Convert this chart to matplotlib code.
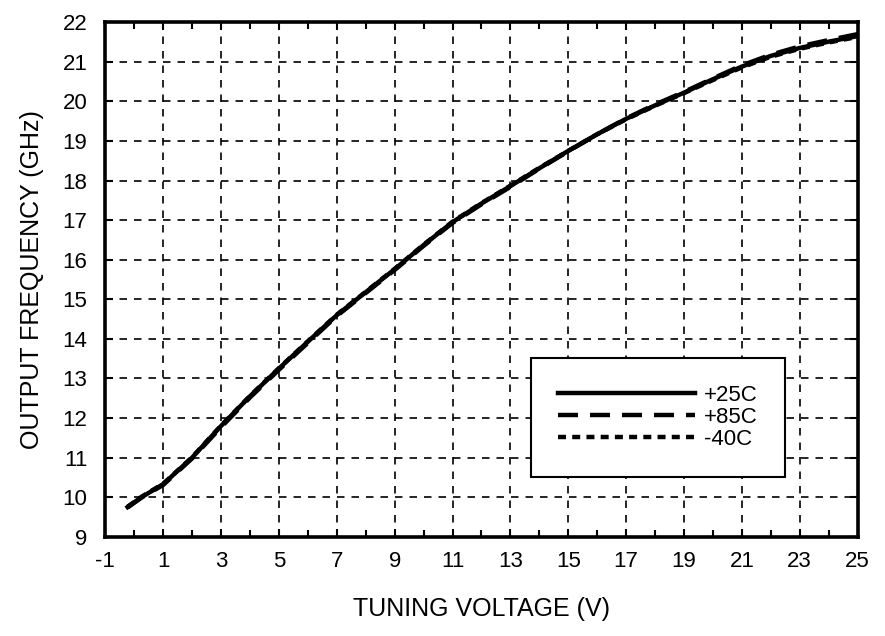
"""VCO tuning curve: output frequency vs tuning voltage at three temperatures."""

import matplotlib.pyplot as plt
import numpy as np
from matplotlib.ticker import MultipleLocator

plt.rcParams["font.family"] = ["Liberation Sans", "DejaVu Sans"]
plt.rcParams["axes.unicode_minus"] = False

# Tuning voltage (V) and output frequency (GHz)
VOLTAGE = [-0.23, 0.25, 1, 2, 3, 4, 5, 6, 7, 8, 9, 10, 11, 12, 13, 14, 15,
           16, 17, 18, 19, 20, 21, 22, 23, 24, 25]
FREQ_25C = [9.75, 10.0, 10.33, 11.0, 11.8, 12.55, 13.25, 13.93, 14.6, 15.18,
            15.76, 16.37, 16.95, 17.42, 17.86, 18.31, 18.75, 19.17, 19.56,
            19.9, 20.22, 20.56, 20.88, 21.15, 21.35, 21.51, 21.65]
FREQ_85C = [9.74, 9.99, 10.31, 10.98, 11.77, 12.52, 13.22, 13.9, 14.58, 15.16,
            15.74, 16.35, 16.93, 17.4, 17.84, 18.3, 18.74, 19.17, 19.57,
            19.92, 20.24, 20.58, 20.91, 21.18, 21.39, 21.55, 21.7]
FREQ_M40C = [9.76, 10.01, 10.34, 11.01, 11.81, 12.56, 13.26, 13.94, 14.61,
             15.19, 15.77, 16.38, 16.96, 17.43, 17.87, 18.32, 18.75, 19.17,
             19.55, 19.89, 20.21, 20.54, 20.86, 21.13, 21.33, 21.49, 21.63]

LABELS = ["+25C", "+85C", "-40C"]


def main() -> None:
    fig = plt.figure(figsize=(8.85, 6.36), dpi=100)
    ax = fig.add_axes([0.119, 0.156, 0.850, 0.809])

    ax.plot(VOLTAGE, FREQ_25C, color="black", lw=3.2, ls="-", label=LABELS[0])
    ax.plot(VOLTAGE, FREQ_85C, color="black", lw=3.2, ls=(0, (4.5, 2.7)),
            label=LABELS[1])
    ax.plot(VOLTAGE, FREQ_M40C, color="black", lw=3.2, ls=(0, (1.8, 1.4)),
            label=LABELS[2])

    ax.set_xlim(-1, 25)
    ax.set_ylim(9, 22)
    ax.set_xticks(np.arange(-1, 26, 2))
    ax.xaxis.set_minor_locator(MultipleLocator(1))
    ax.yaxis.set_major_locator(MultipleLocator(1))

    ax.grid(True, which="major", color="black", ls=(0, (4.5, 4.2)), lw=1.2)
    ax.tick_params(which="both", direction="in", top=True, right=True,
                   labelsize=16, width=1.5)
    ax.tick_params(axis="x", pad=10)
    ax.tick_params(axis="y", pad=13)
    ax.tick_params(which="major", length=6)
    ax.tick_params(which="minor", length=5)
    for spine in ax.spines.values():
        spine.set_linewidth(2.6)

    ax.set_xlabel("TUNING VOLTAGE (V)", fontsize=18, labelpad=18)
    ax.set_ylabel("OUTPUT FREQUENCY (GHz)", fontsize=18, labelpad=13)

    leg = ax.legend(loc="lower right", bbox_to_anchor=(0.918, 0.095),
                    fontsize=16, frameon=True, fancybox=False,
                    handlelength=6.2, handletextpad=0.4, labelspacing=0.05,
                    borderpad=1.2, framealpha=1)
    leg.get_frame().set_edgecolor("black")
    leg.get_frame().set_linewidth(1.5)

    fig.savefig("out.png", facecolor="white")
    plt.close(fig)


if __name__ == "__main__":
    main()
